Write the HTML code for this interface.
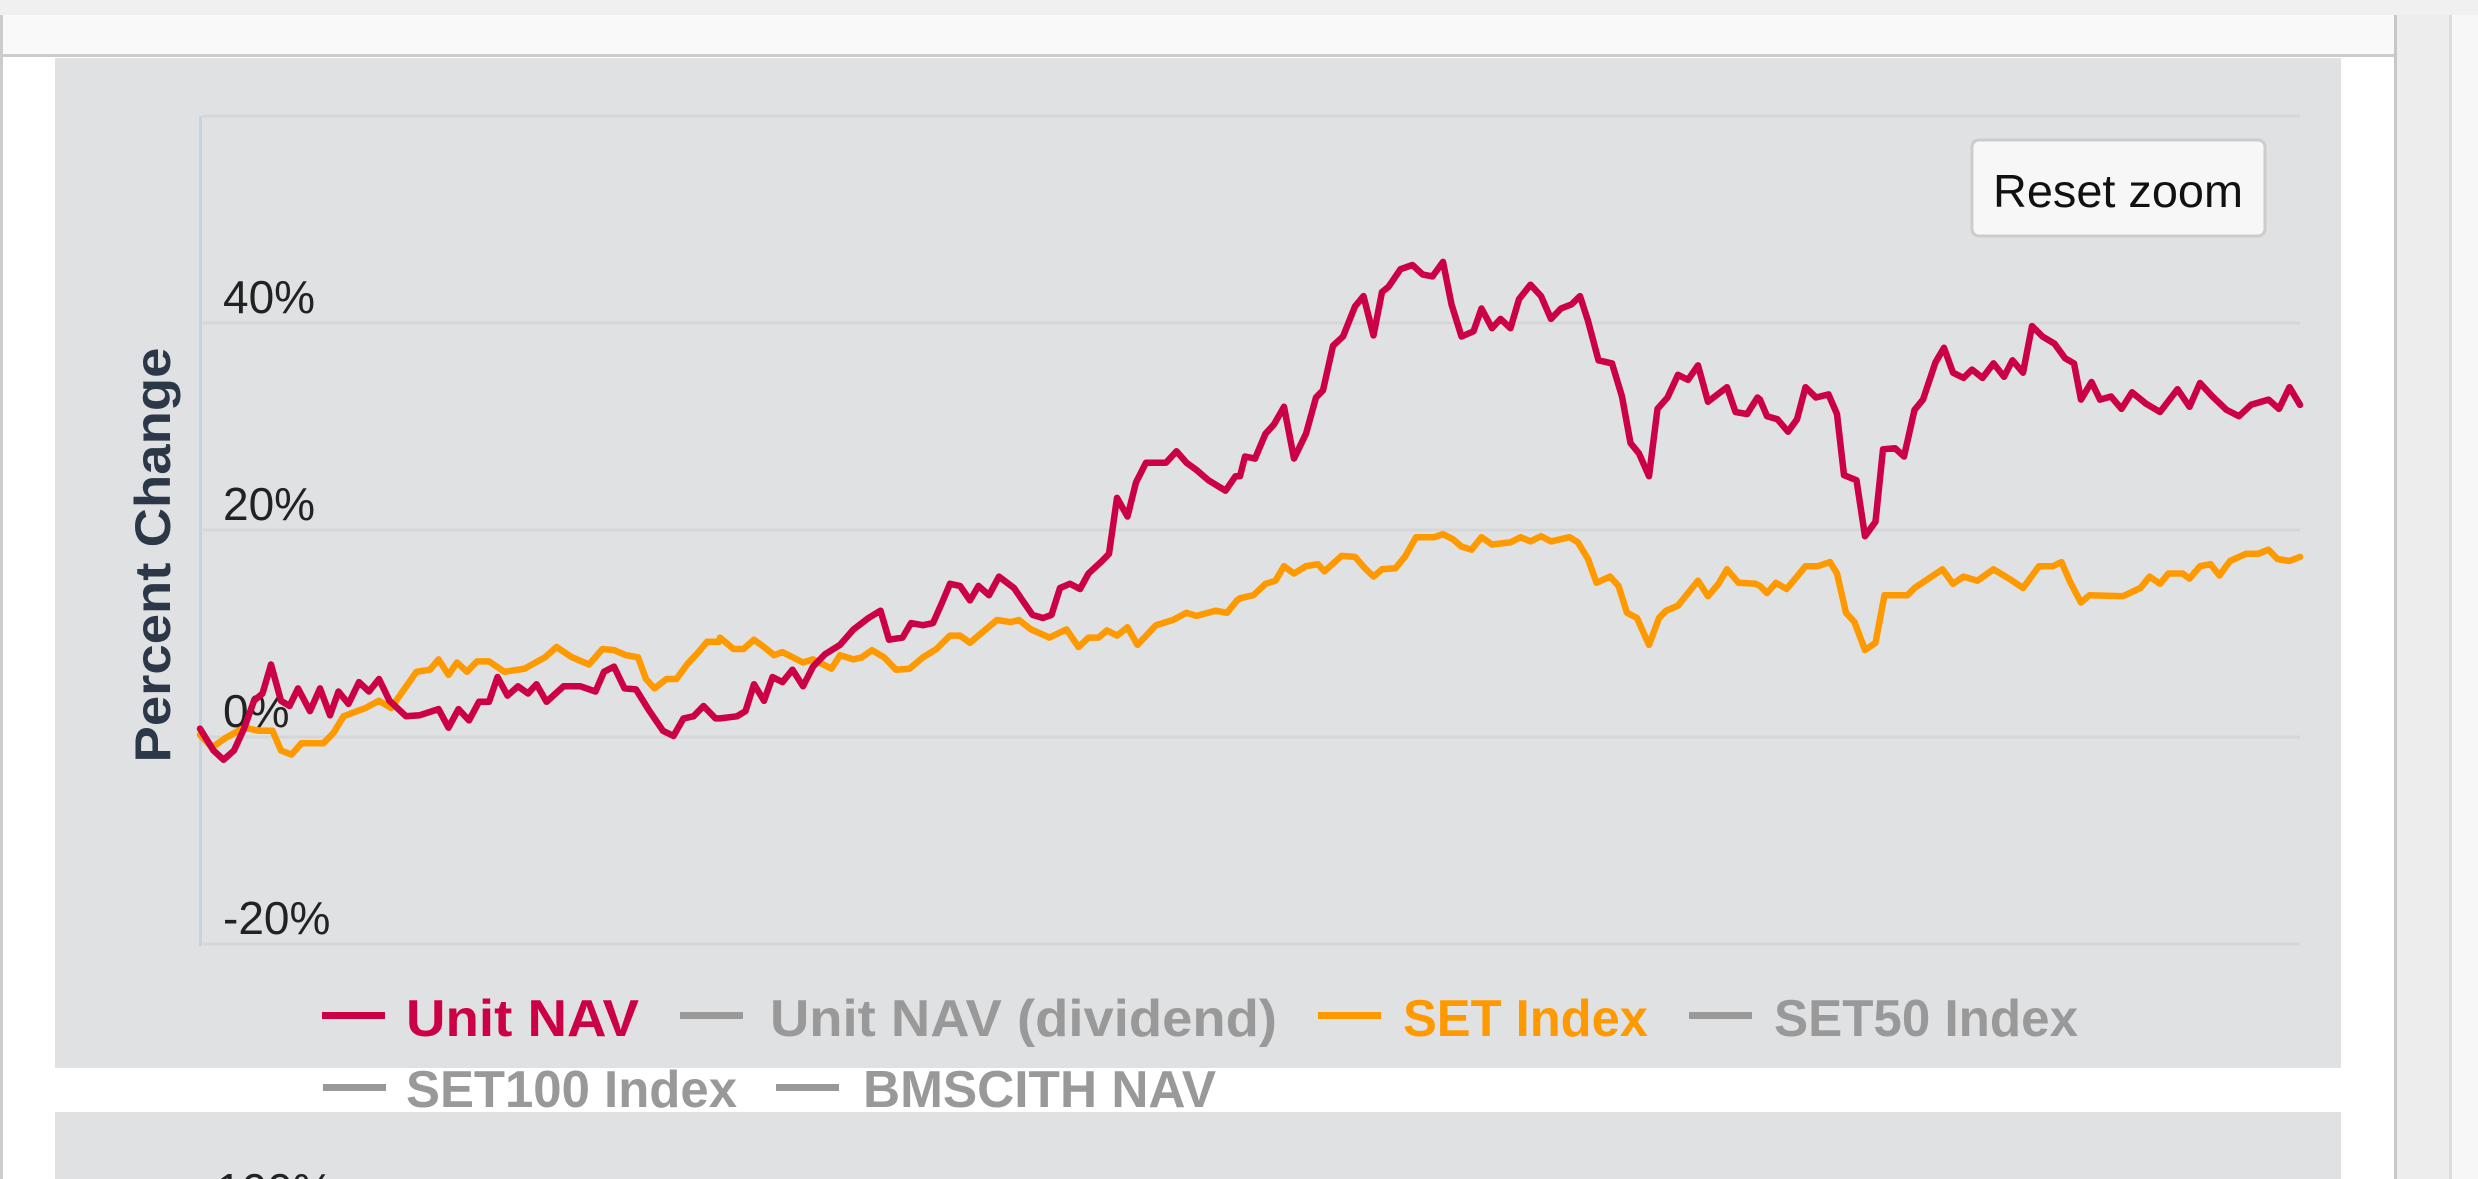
<!DOCTYPE html>
<html><head><meta charset="utf-8"><style>
html,body{margin:0;padding:0;background:#fff;}
svg{display:block;font-family:"Liberation Sans",sans-serif;}
</style></head><body>
<svg id="chart" width="2478" height="1179" viewBox="0 0 2478 1179" xmlns="http://www.w3.org/2000/svg">
  <rect x="0" y="0" width="2478" height="1179" fill="#ffffff"/>
  <rect x="0" y="0" width="2478" height="15" fill="#f0f0f0"/>
  <rect x="0" y="15" width="2396" height="40" fill="#f9f9f9"/>
  <rect x="0" y="54" width="2396" height="3" fill="#cccccc"/>
  <rect x="0" y="15" width="3" height="1164" fill="#cccccc"/>
  <rect x="2394" y="15" width="3" height="1164" fill="#c8c8c8"/>
  <rect x="2397" y="15" width="52" height="1164" fill="#ededed"/>
  <rect x="2449" y="15" width="3" height="1164" fill="#dddddd"/>
  <rect x="2452" y="15" width="26" height="1164" fill="#f7f7f7"/>
  <rect x="55" y="58" width="2286" height="1010" fill="#e0e1e3"/>
  <rect x="55" y="1112" width="2286" height="67" fill="#e0e1e3"/>
  <text x="216" y="1206" font-size="46" fill="#222">100%</text>
  <g id="grid"></g>
  <rect x="199" y="116" width="3" height="830" fill="#c4d3e3"/>
  <g id="ylabels"></g>
  <text transform="translate(170,555) rotate(-90)" text-anchor="middle" font-size="50" font-weight="bold" fill="#2c3848" textLength="415" lengthAdjust="spacingAndGlyphs">Percent Change</text>
  <g id="series"></g>
  <g>
    <rect x="1972" y="140" width="293" height="96" rx="7" fill="#f7f7f7" stroke="#cccccc" stroke-width="3"/>
    <text x="2118" y="207" text-anchor="middle" font-size="46" fill="#111" textLength="250" lengthAdjust="spacingAndGlyphs">Reset zoom</text>
  </g>
  <g font-weight="bold" font-size="52">
    <g><rect x="322" y="1012" width="63" height="7" fill="#cc0044"/><text x="406" y="1036" fill="#cc0044" textLength="233" lengthAdjust="spacingAndGlyphs">Unit NAV</text></g>
    <g><rect x="680" y="1012" width="63" height="7" fill="#999"/><text x="770" y="1036" fill="#999" textLength="507" lengthAdjust="spacingAndGlyphs">Unit NAV (dividend)</text></g>
    <g><rect x="1318" y="1012" width="63" height="7" fill="#ff9900"/><text x="1403" y="1036" fill="#ff9900" textLength="245" lengthAdjust="spacingAndGlyphs">SET Index</text></g>
    <g><rect x="1689" y="1012" width="63" height="7" fill="#999"/><text x="1774" y="1036" fill="#999" textLength="304" lengthAdjust="spacingAndGlyphs">SET50 Index</text></g>
    <g><rect x="323" y="1084" width="63" height="7" fill="#999"/><text x="406" y="1107" fill="#999" textLength="331" lengthAdjust="spacingAndGlyphs">SET100 Index</text></g>
    <g><rect x="776" y="1084" width="63" height="7" fill="#999"/><text x="863" y="1107" fill="#999" textLength="353" lengthAdjust="spacingAndGlyphs">BMSCITH NAV</text></g>
  </g>
</svg>
<script>
const yTicks = [-20, 0, 20, 40, 60];
const yTickLabels = ["-20%", "0%", "20%", "40%", ""];
const navDays = [0,2.7,4.7,6.8,8.8,10.8,12.5,14.2,16.2,17.9,19.6,22.0,24.0,26.0,27.7,29.7,31.8,33.8,35.8,37.9,41.2,43.9,47.7,49.7,51.7,53.8,55.8,57.8,59.5,61.5,63.6,65.6,67.3,69.3,72.7,76.1,79.1,80.8,82.8,84.9,87.2,89.9,92.6,94.7,96.7,98.7,100.7,103.1,
104.0,107.4,109.1,110.8,112.8,114.5,116.5,118.5,120.6,122.6,125.0,128.0,130.7,133.7,136.1,137.8,140.5,142.2,144.6,146.6,148.6,150.0,152.0,154.0,155.7,157.8,159.8,162.8,164.5,166.5,168.6,170.3,172.0,174.0,176.0,177.7,180.4,181.8,183.4,185.5,187.2,189.2,193.2,195.3,197.3,199.3,201.7,205.1,207.1,
208.0,209.0,211.0,213.1,214.8,216.8,218.8,221.2,223.2,224.6,226.6,228.6,231.0,232.7,234.7,236.4,237.7,240.1,242.5,244.5,246.5,248.6,250.3,252.3,254.7,256.3,258.4,260.1,262.1,263.8,266.1,268.2,270.2,272.2,274.3,276.0,277.6,279.7,282.4,284.4,286.1,287.8,289.8,291.5,293.5,295.6,297.6,299.6,301.6,305.4,307.1,309.4,311.5,
312.0,313.4,315.5,317.6,319.4,321.1,323.2,325.7,327.4,328.8,331.3,333.0,335.1,336.6,339.0,340.8,342.9,344.6,347.1,348.8,350.6,352.7,354.4,356.5,358.7,360.8,362.5,364.6,366.4,368.5,370.9,373.0,374.8,376.2,378.3,380.0,382.2,384.3,386.4,389.2,392.0,395.5,397.9,400.0,402.5,405.3,407.8,410.2,413.7,415.8,417.9,420.0];
const navValues = [0.8,-1.3,-2.2,-1.3,0.8,3.5,4.2,7.0,3.5,3.0,4.7,2.5,4.7,2.1,4.4,3.2,5.3,4.4,5.6,3.5,2.0,2.1,2.7,0.9,2.7,1.6,3.4,3.4,5.8,4.0,4.9,4.2,5.1,3.4,4.9,4.9,4.4,6.3,6.8,4.7,4.6,2.5,0.6,0.1,1.8,2.0,3.0,1.8,
1.8,2.0,2.5,5.1,3.5,5.8,5.3,6.5,4.9,6.8,8.0,8.9,10.4,11.5,12.2,9.4,9.6,11.0,10.8,11.0,13.2,14.8,14.6,13.2,14.6,13.7,15.5,14.4,13.2,11.8,11.5,11.8,14.4,14.8,14.3,15.8,17.0,17.7,23.1,21.3,24.6,26.5,26.5,27.6,26.5,25.8,24.8,23.8,25.2,
25.2,27.1,26.9,29.3,30.2,31.9,26.9,29.3,32.8,33.5,37.8,38.7,41.6,42.6,38.8,43.0,43.5,45.2,45.6,44.7,44.5,45.9,41.8,38.7,39.2,41.4,39.5,40.4,39.5,42.3,43.7,42.6,40.4,41.4,41.8,42.6,40.2,36.4,36.1,32.9,28.4,27.4,25.2,31.7,32.8,35.0,34.5,35.9,32.4,33.8,31.4,31.2,32.8,
32.6,31.0,30.7,29.5,30.7,33.8,32.8,33.1,31.2,25.3,24.8,19.4,20.8,27.8,27.9,27.1,31.6,32.6,36.2,37.6,35.2,34.7,35.5,34.7,36.1,34.8,36.4,35.2,39.7,38.7,38.0,36.6,36.1,32.6,34.3,32.6,32.9,31.7,33.3,32.2,31.4,33.6,31.9,34.2,32.9,31.6,31.0,32.1,32.6,31.7,33.8,32.1];
const setDays = [0,2.4,5.1,8.8,11.8,14.5,16.2,18.3,20.3,24.7,26.7,28.7,33.1,35.8,38.2,43.3,46.0,47.7,49.7,51.4,53.4,55.4,57.8,60.9,64.9,69.0,71.3,74.4,77.8,80.5,82.8,85.2,87.6,89.2,90.9,93.3,95.3,97.4,99.7,101.4,103.8,
104.0,106.7,108.7,110.8,112.8,114.8,116.5,120.6,122.6,126.3,128.0,130.7,132.4,134.4,136.8,139.2,141.9,144.6,147.3,150.0,152.0,154.0,156.4,159.4,162.1,163.8,166.2,169.9,173.3,175.7,177.7,179.7,181.4,183.4,185.5,187.5,191.2,194.6,197.3,199.3,203.1,205.4,207.4,
208.0,210.7,213.1,215.1,216.8,218.8,221.2,223.6,224.9,228.3,231.0,233.0,234.7,236.4,239.1,241.1,243.2,246.9,248.6,250.6,252.3,254.3,256.3,258.4,262.1,264.1,266.1,268.2,270.2,273.9,275.6,277.6,279.3,282.0,283.7,285.4,287.4,289.8,291.8,293.2,295.6,297.6,299.6,301.6,303.7,305.4,307.7,311.1,
312.0,313.4,315.2,317.3,319.4,321.1,323.6,326.0,327.4,329.2,330.9,333.0,335.1,336.9,341.5,342.9,348.5,350.6,352.7,355.5,358.7,361.8,364.6,367.8,370.6,372.3,374.1,376.2,377.9,384.6,388.1,389.9,392.0,393.7,396.5,397.9,400.0,402.1,403.9,406.0,409.2,411.6,413.7,415.5,417.9,420.0];
const setValues = [0.2,-1.0,-0.1,0.9,0.6,0.6,-1.3,-1.7,-0.6,-0.6,0.4,2.0,2.8,3.5,2.8,6.3,6.5,7.5,6.0,7.2,6.3,7.3,7.3,6.3,6.6,7.7,8.7,7.7,7.0,8.5,8.4,7.9,7.7,5.6,4.7,5.6,5.6,7.0,8.2,9.2,9.2,
9.6,8.5,8.5,9.4,8.7,7.9,8.2,7.2,7.5,6.6,7.9,7.5,7.7,8.4,7.7,6.5,6.6,7.7,8.5,9.8,9.8,9.1,10.1,11.3,11.1,11.3,10.4,9.6,10.4,8.7,9.6,9.6,10.3,9.8,10.6,8.9,10.8,11.3,12.0,11.7,12.2,12.0,13.2,
13.4,13.7,14.8,15.1,16.5,15.8,16.5,16.7,16.0,17.5,17.4,16.3,15.5,16.2,16.3,17.5,19.3,19.3,19.6,19.1,18.4,18.1,19.3,18.6,18.8,19.3,18.9,19.4,18.9,19.3,18.8,17.2,14.9,15.5,14.6,12.0,11.5,8.9,11.5,12.2,12.7,13.9,15.1,13.6,14.8,16.2,14.9,14.8,
14.6,13.9,14.9,14.3,15.5,16.5,16.5,16.9,15.8,12.0,11.1,8.4,9.1,13.7,13.7,14.4,16.2,14.8,15.5,15.1,16.2,15.3,14.4,16.5,16.5,16.9,14.9,13.0,13.7,13.6,14.4,15.5,14.8,15.8,15.8,15.3,16.5,16.7,15.6,17.0,17.7,17.7,18.1,17.2,17.0,17.4];

const NS = "http://www.w3.org/2000/svg";
const plot = {left: 200, right: 2300, top: 116, bottom: 944};
const dayMin = 0, dayMax = 420, vMin = -20, vMax = 60;
function xScale(d){ return plot.left + (d - dayMin) / (dayMax - dayMin) * (plot.right - plot.left); }
function yScale(v){ return plot.bottom - (v - vMin) / (vMax - vMin) * (plot.bottom - plot.top); }

const grid = document.getElementById('grid');
const ylabels = document.getElementById('ylabels');
yTicks.forEach((t, i) => {
  const ln = document.createElementNS(NS, 'line');
  
  
  ln.setAttribute('x1', plot.left + 3); ln.setAttribute('x2', plot.right);
  ln.setAttribute('y1', yScale(t)); ln.setAttribute('y2', yScale(t));
  ln.setAttribute('stroke', '#d5d6d8'); ln.setAttribute('stroke-width', '3');
  grid.appendChild(ln);
  if (yTickLabels[i]) {
    const tx = document.createElementNS(NS, 'text');
    
    
    tx.setAttribute('x', 223);
    tx.setAttribute('y', yScale(t) - 10);
    tx.setAttribute('font-size', '46');
    tx.setAttribute('fill', '#222');
    tx.textContent = yTickLabels[i];
    ylabels.appendChild(tx);
  }
});

function drawLine(days, vals, color, name){
  const p = document.createElementNS(NS, 'path');
  let d = '';
  days.forEach((day, i) => { d += (i ? 'L' : 'M') + xScale(day).toFixed(1) + ',' + yScale(vals[i]).toFixed(1); });
  p.setAttribute('d', d);
  
  
  p.setAttribute('fill', 'none');
  p.setAttribute('stroke', color);
  p.setAttribute('stroke-width', '6.5');
  p.setAttribute('stroke-linejoin', 'round');
  p.setAttribute('stroke-linecap', 'round');
  document.getElementById('series').appendChild(p);
}
drawLine(setDays, setValues, '#ff9900', 'set-index-line');
drawLine(navDays, navValues, '#cc0044', 'unit-nav-line');
</script>
</body></html>
